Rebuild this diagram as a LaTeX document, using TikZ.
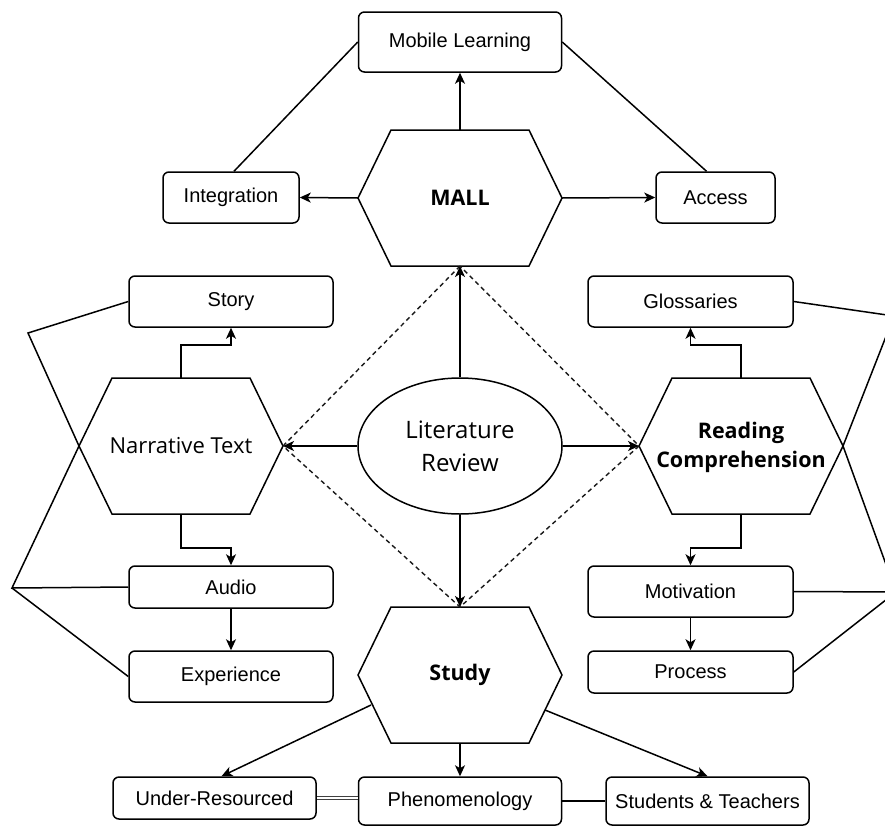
\documentclass[tikz,border=0pt]{standalone}
\usepackage{fontspec}
\setmainfont{Liberation Sans}
\newfontfamily\hexfont{Open Sans}
\usetikzlibrary{shapes.geometric,arrows.meta}
\tikzset{
  conn/.style={line width=1.5pt, draw=black},
  arr/.style={conn, -{Stealth[length=11pt,width=10pt,inset=3pt]}},
  dline/.style={line width=1.4pt, draw=black!90, dash pattern=on 4.5pt off 3.5pt},
  box/.style={draw, line width=1.5pt, rounded corners=6pt, inner sep=0pt, fill=white,
              font=\fontsize{20}{24}\selectfont},
  hexlbl/.style={inner sep=0pt, align=center},
  hexreg/.style={hexlbl, font=\hexfont\fontsize{22}{28}\selectfont},
  hexbold/.style={hexlbl, font=\hexfont\bfseries\fontsize{21.5}{29}\selectfont},
}
\newcommand{\hexa}[3]{%
  \coordinate (#1-l) at (#2-102,#3);
  \coordinate (#1-tl) at (#2-69,#3-68);
  \coordinate (#1-tr) at (#2+69,#3-68);
  \coordinate (#1-r) at (#2+102,#3);
  \coordinate (#1-br) at (#2+69,#3+68);
  \coordinate (#1-bl) at (#2-69,#3+68);
  \coordinate (#1-t) at (#2,#3-68);
  \coordinate (#1-b) at (#2,#3+68);
  \draw[conn, line join=miter] (#1-l) -- (#1-tl) -- (#1-tr) -- (#1-r) -- (#1-br) -- (#1-bl) -- cycle;
}
\begin{document}
\begin{tikzpicture}[x=1pt,y=-1pt]
\fill[white] (0,0) rectangle (885,827);
\useasboundingbox (0,0) rectangle (885,827);

% hexagons
\hexa{MALLh}{460}{198}
\hexa{NTh}{181}{446}
\hexa{RCh}{741}{446}
\hexa{STh}{460}{675}
\node[hexbold] (MALL) at (460,198) {MALL};
\node[hexreg] (NT) at (181,446) {Narrative Text};
\node[hexbold] (RC) at (741,447) {Reading\\Comprehension};
\node[hexbold] (Study) at (460,675) {Study};

% ellipse
\node[ellipse, draw, line width=1.5pt, minimum width=204pt, minimum height=136pt, inner sep=0pt,
      align=center, font=\hexfont\fontsize{24}{33}\selectfont] (LR) at (460,446) {Literature\\Review};

% boxes
\node[box, minimum width=203pt, minimum height=60pt] (ML) at (460,42) {Mobile Learning};
\node[box, minimum width=136pt, minimum height=51pt] (Int) at (231,197.5) {Integration};
\node[box, minimum width=119pt, minimum height=51pt] (Acc) at (715.5,197.5) {Access};
\node[box, minimum width=204pt, minimum height=51pt] (Story) at (231,301.5) {Story};
\node[box, minimum width=204pt, minimum height=42pt] (Audio) at (231,587) {Audio};
\node[box, minimum width=204pt, minimum height=51pt] (Exp) at (231,676.5) {Experience};
\node[box, minimum width=205pt, minimum height=51pt] (Gloss) at (690.5,301.5) {Glossaries};
\node[box, minimum width=205pt, minimum height=51pt] (Motiv) at (690.5,591.5) {Motivation};
\node[box, minimum width=205pt, minimum height=42pt] (Proc) at (690.5,672) {Process};
\node[box, minimum width=203pt, minimum height=42pt] (UR) at (214.5,798) {Under-Resourced};
\node[box, minimum width=203pt, minimum height=48pt] (Phen) at (460,801) {Phenomenology};
\node[box, minimum width=203pt, minimum height=48pt] (ST) at (707.5,801) {Students \& Teachers};

% free-end coordinates
\coordinate (PL1) at (28,333);
\coordinate (PL2) at (12,588);
\coordinate (PR1) at (894,316);
\coordinate (PR2) at (896,592);
\coordinate (STsl) at (371,705);
\coordinate (STsr) at (545,710);

% MALL group
\draw[arr] (MALLh-t) -- (MALLh-t |- ML.south);
\draw[arr] (MALLh-l) -- (Int.east);
\draw[arr] (MALLh-r) -- (Acc.west);
\draw[conn] ([xshift=3pt]Int.north) -- (ML.west);
\draw[conn] ([xshift=-9pt]Acc.north) -- (ML.east);

% dashed diamond
\draw[dline] (MALLh-b) -- (NTh-r) -- (STh-t) -- (RCh-l) -- cycle;

% literature review arrows
\draw[arr] (LR.north) -- (MALLh-b);
\draw[arr] (LR.west) -- (NTh-r);
\draw[arr] (LR.east) -- (RCh-l);
\draw[arr] (LR.south) -- (STh-t);

% narrative text group
\draw[arr] (NTh-t) -- ++(0,-33) -| (Story.south);
\draw[arr] (NTh-b) -- ++(0,34) -| (Audio.north);
\draw[arr] (Audio.south) -- (Exp.north);
\draw[conn] (Story.west) -- (PL1) -- (NTh-l);
\draw[conn] (NTh-l) -- (PL2) -- (Audio.west);
\draw[conn] (PL2) -- (Exp.west);

% reading comprehension group
\draw[arr] (RCh-t) -- ++(0,-33) -| (Gloss.south);
\draw[arr] (RCh-b) -- ++(0,34) -| (Motiv.north);
\draw[arr] (Motiv.south) -- (Proc.north);
\draw[conn] (Gloss.east) -- (PR1) -- (RCh-r);
\draw[conn] (RCh-r) -- (PR2) -- (Motiv.east);
\draw[conn] (PR2) -- (Proc.east);

% study group
\draw[arr] (STsl) -- ([xshift=7pt]UR.north);
\draw[arr] (STh-b) -- (Phen.north);
\draw[arr] (STsr) -- (ST.north);
\draw[line width=1pt, draw=black!75, double=white, double distance=1.4pt] (UR.east) -- (UR.east -| Phen.west);
\draw[conn] (ST.west -| Phen.east) -- (ST.west);
\end{tikzpicture}
\end{document}
